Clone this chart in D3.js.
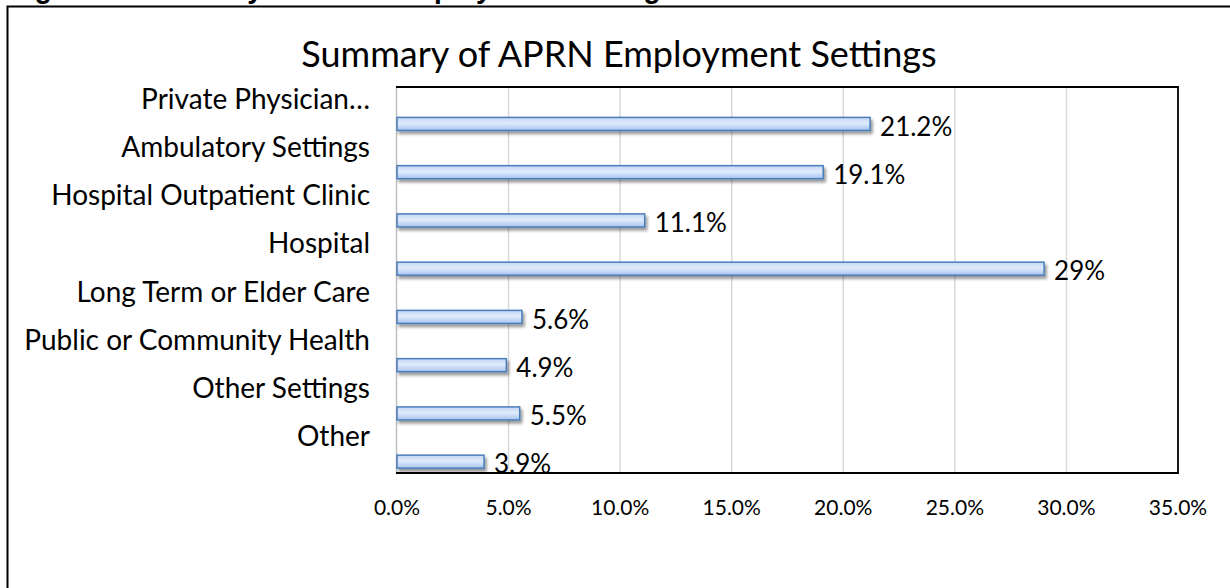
<!DOCTYPE html>
<html>
<head>
<meta charset="utf-8">
<script src="https://cdn.jsdelivr.net/npm/d3@7"></script>
<style>
  html, body { margin: 0; padding: 0; background: #fff; }
  svg { display: block; }
  text { font-family: Lato, "Open Sans", sans-serif; fill: #000; }
</style>
</head>
<body>
<div id="chart"></div>
<script>
const categories = [
    'Private Physician…',
    'Ambulatory Settings',
    'Hospital Outpatient Clinic',
    'Hospital',
    'Long Term or Elder Care',
    'Public or Community Health',
    'Other Settings',
    'Other'
];
const shares = [21.2, 19.1, 11.1, 29, 5.6, 4.9, 5.5, 3.9];
const shareLabels = ['21.2%', '19.1%', '11.1%', '29%', '5.6%', '4.9%', '5.5%', '3.9%'];
const xTicks = [0, 5, 10, 15, 20, 25, 30, 35];

const width = 1230;
const height = 588;
const plot = { left: 397, right: 1178, top: 87, bottom: 473 };

const svg = d3.select('#chart').append('svg')
    .attr('width', width)
    .attr('height', height);

const defs = svg.append('defs');

const grad = defs.append('linearGradient')
    .attr('id', 'barFill')
    .attr('x1', 0).attr('y1', 0).attr('x2', 0).attr('y2', 1);
grad.append('stop').attr('offset', '0%').attr('stop-color', '#c2d6f4');
grad.append('stop').attr('offset', '45%').attr('stop-color', '#e0ebfc');
grad.append('stop').attr('offset', '100%').attr('stop-color', '#a8c4ee');

defs.append('filter')
    .attr('id', 'shadow')
    .attr('x', '-5%').attr('y', '-50%').attr('width', '115%').attr('height', '250%')
    .append('feDropShadow')
    .attr('dx', 2).attr('dy', 3)
    .attr('stdDeviation', 1.6)
    .attr('flood-color', '#000')
    .attr('flood-opacity', 0.4);

// figure caption, cut off by the top edge in the original
svg.append('text')
    .attr('x', 10)
    .attr('y', -2)
    .attr('textLength', 666)
    .attr('lengthAdjust', 'spacingAndGlyphs')
    .style('font-family', '"Liberation Sans", sans-serif')
    .style('font-weight', 'bold')
    .style('font-size', '30px')
    .text('Figure 9: Summary of APRN Employment Settings');

// outer chart frame
svg.append('rect')
    .attr('x', 7.5)
    .attr('y', 6.5)
    .attr('width', width)
    .attr('height', height)
    .attr('fill', 'none')
    .attr('stroke', '#000')
    .attr('stroke-width', 2);

svg.append('text')
    .attr('x', 619)
    .attr('y', 53)
    .attr('text-anchor', 'middle')
    .attr('dominant-baseline', 'central')
    .style('font-size', '36px')
    .text('Summary of APRN Employment Settings');

const x = d3.scaleLinear()
    .domain([0, 35])
    .range([plot.left, plot.right]);

const y = d3.scaleBand()
    .domain(categories)
    .range([plot.top, plot.bottom])
    .padding(0);

const bw = y.bandwidth();

// gridlines
svg.append('g')
    .selectAll('line')
    .data(xTicks.slice(1, -1))
    .join('line')
    .attr('x1', d => x(d)).attr('x2', d => x(d))
    .attr('y1', plot.top).attr('y2', plot.bottom)
    .attr('stroke', '#d9d9d9')
    .attr('stroke-width', 1.5);

// left axis line (grey)
svg.append('line')
    .attr('x1', plot.left - 0.5).attr('x2', plot.left - 0.5)
    .attr('y1', plot.top).attr('y2', plot.bottom)
    .attr('stroke', '#bfbfbf')
    .attr('stroke-width', 1.5);

// bars
svg.append('g')
    .selectAll('rect')
    .data(categories)
    .join('rect')
    .attr('x', x(0))
    .attr('y', d => y(d) + bw * 0.63)
    .attr('width', (d, i) => x(shares[i]) - x(0))
    .attr('height', bw * 0.27)
    .attr('fill', 'url(#barFill)')
    .attr('stroke', '#4a7ebb')
    .attr('stroke-width', 1.5)
    .attr('filter', 'url(#shadow)');

// plot frame top / right / bottom
svg.append('path')
    .attr('d', `M${plot.left - 1},${plot.top} H${plot.right} V${plot.bottom} H${plot.left - 1}`)
    .attr('fill', 'none')
    .attr('stroke', '#000')
    .attr('stroke-width', 1.8);

// value labels
svg.append('g')
    .selectAll('text')
    .data(categories)
    .join('text')
    .attr('x', (d, i) => x(shares[i]) + 10)
    .attr('y', d => y(d) + bw * 0.8)
    .attr('dominant-baseline', 'central')
    .style('font-size', '26px')
    .text((d, i) => shareLabels[i]);

// category labels
svg.append('g')
    .selectAll('text')
    .data(categories)
    .join('text')
    .attr('x', 370)
    .attr('y', d => y(d) + bw * 0.22)
    .attr('text-anchor', 'end')
    .attr('dominant-baseline', 'central')
    .style('font-size', '28px')
    .text(d => d);

// x axis tick labels
svg.append('g')
    .selectAll('text')
    .data(xTicks)
    .join('text')
    .attr('x', d => x(d))
    .attr('y', 506)
    .attr('text-anchor', 'middle')
    .attr('dominant-baseline', 'central')
    .style('font-size', '21px')
    .text(d => d3.format('.1f')(d) + '%');
</script>
</body>
</html>
